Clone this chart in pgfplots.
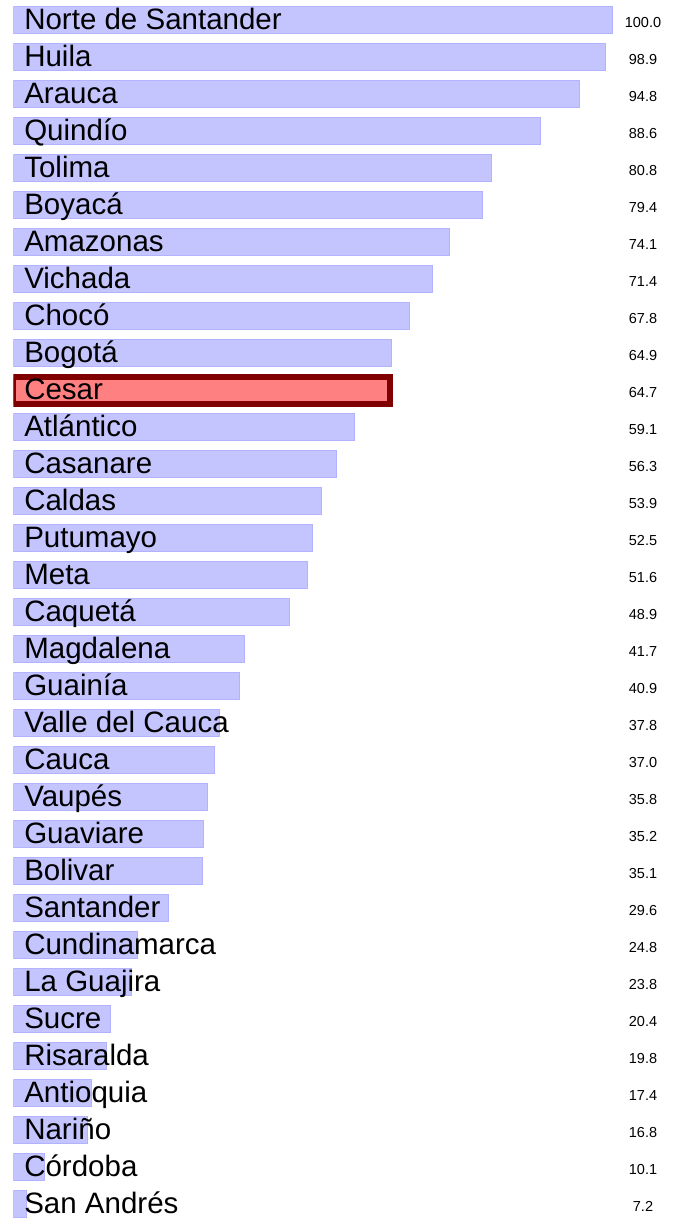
\documentclass[border=0pt]{standalone}
\usepackage{fontspec}
\setmainfont{Liberation Sans}
\usepackage{pgfplots}
\pgfplotsset{compat=1.18}
\usepackage{pgfplotstable}

\definecolor{barfill}{RGB}{196,196,255}
\definecolor{baredge}{RGB}{178,178,255}
\definecolor{hifill}{RGB}{255,128,128}
\definecolor{hiedge}{RGB}{128,0,0}

% idx = row from top, value
\pgfplotstableread{
value idx
100.0 0
98.9 1
94.8 2
88.6 3
80.8 4
79.4 5
74.1 6
71.4 7
67.8 8
64.9 9
59.1 11
56.3 12
53.9 13
52.5 14
51.6 15
48.9 16
41.7 17
40.9 18
37.8 19
37.0 20
35.8 21
35.2 22
35.1 23
29.6 24
24.8 25
23.8 26
20.4 27
19.8 28
17.4 29
16.8 30
10.1 31
7.2 32
}\maindata

\pgfplotstableread{
value idx
64.7 10
}\hidata

\pgfplotsset{
  common/.style={
    scale only axis, width=666.7pt, height=1218pt,
    xmin=5.083, xmax=110.66, ymin=-0.55, ymax=32.37, y dir=reverse,
    axis line style={draw=none}, tick style={draw=none},
    major tick length=0pt, xtick=\empty, ytick={0,...,32},
  }
}

\begin{document}
\begin{tikzpicture}
\begin{axis}[
  common,
  axis on top,
  xbar, bar width=27pt,
  yticklabels={Norte de Santander,Huila,Arauca,Quindío,Tolima,Boyacá,Amazonas,Vichada,Chocó,Bogotá,Cesar,Atlántico,Casanare,Caldas,Putumayo,Meta,Caquetá,Magdalena,Guainía,Valle del Cauca,Cauca,Vaupés,Guaviare,Bolivar,Santander,Cundinamarca,La Guajira,Sucre,Risaralda,Antioquia,Nariño,Córdoba,San Andrés},
  yticklabel style={anchor=base west, inner sep=0pt, xshift=10.8pt, yshift=-9.4pt, font=\fontsize{29.5pt}{31pt}\selectfont, text=black},
]
\addplot[xbar, bar shift=0pt, fill=barfill, draw=baredge, line width=1pt] table[x=value, y=idx] {\maindata};
\addplot[xbar, bar shift=0pt, fill=hifill, draw=hiedge, line width=5.5pt] table[x=value, y=idx] {\hidata};
\end{axis}
\begin{axis}[
  common,
  yticklabel pos=right,
  yticklabels={100.0,98.9,94.8,88.6,80.8,79.4,74.1,71.4,67.8,64.9,64.7,59.1,56.3,53.9,52.5,51.6,48.9,41.7,40.9,37.8,37.0,35.8,35.2,35.1,29.6,24.8,23.8,20.4,19.8,17.4,16.8,10.1,7.2},
  yticklabel style={anchor=base, inner sep=0pt, xshift=-37pt, yshift=-7.3pt, font=\fontsize{14.5pt}{16pt}\selectfont, text=black},
]
\end{axis}
\path ([xshift=-13.3pt]current axis.south west) rectangle (current axis.north east);
\end{tikzpicture}
\end{document}
